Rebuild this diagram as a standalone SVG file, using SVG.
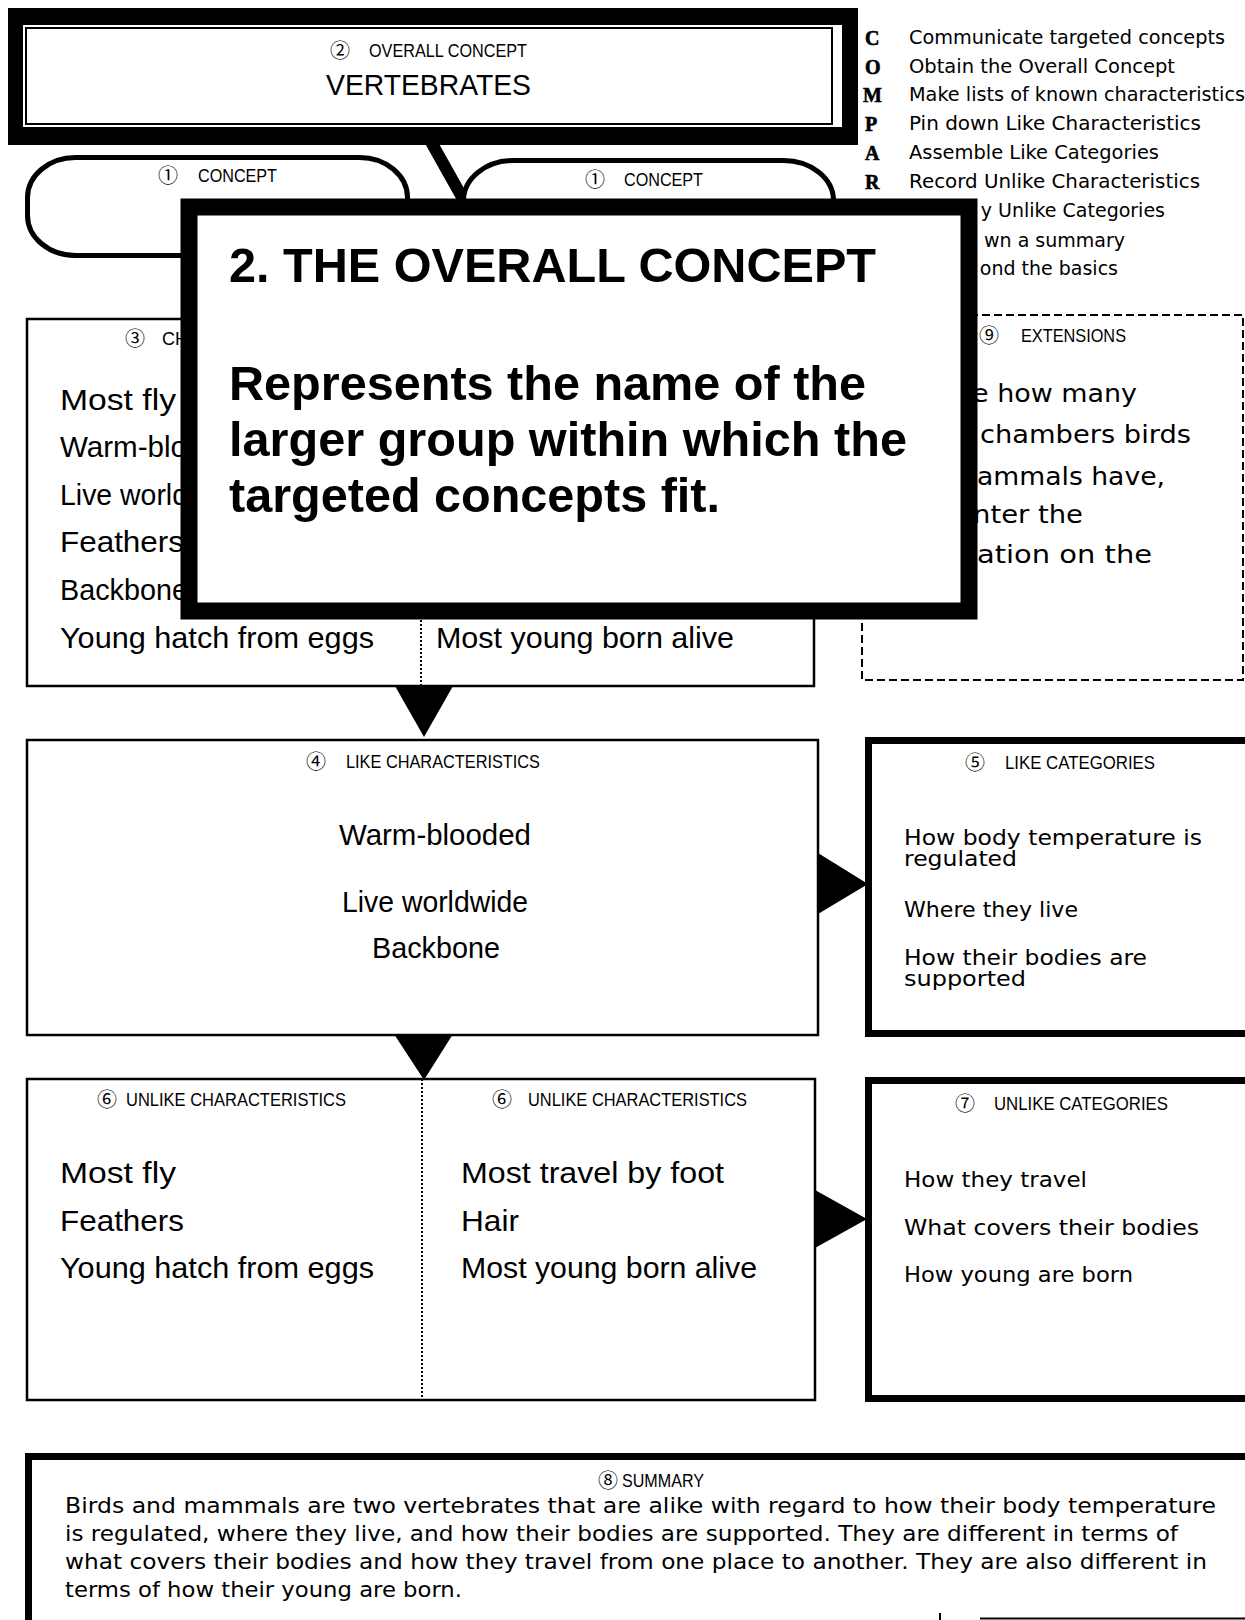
<svg xmlns="http://www.w3.org/2000/svg" width="1245" height="1620" viewBox="0 0 1245 1620">
<style>
.lbl{font-family:"Liberation Sans",Arial,sans-serif;font-size:18px;fill:#000}
.num{font-family:"Noto Sans CJK JP","DejaVu Sans",sans-serif;font-size:20px;fill:#000}
.hand{font-family:"Liberation Sans",Arial,sans-serif;font-size:30px;fill:#000}
.cat{font-family:"DejaVu Sans",sans-serif;font-size:21px;fill:#000}
.ext{font-family:"DejaVu Sans",sans-serif;font-size:24px;fill:#000}
.sum{font-family:"DejaVu Sans",sans-serif;font-size:21px;fill:#000}
.comp{font-family:"DejaVu Sans",sans-serif;font-size:19px;fill:#000}
.let{font-family:"Liberation Serif",serif;font-weight:bold;font-size:20px;fill:#000;stroke:#000;stroke-width:0.6}
.big{font-family:"Liberation Sans",Arial,sans-serif;font-weight:bold;font-size:48px;fill:#000}
.thin{fill:#fff;stroke:#000;stroke-width:2.5}
.thick{fill:#fff;stroke:#000;stroke-width:7}
.concept{fill:#fff;stroke:#000;stroke-width:5}
.dash{fill:#fff;stroke:#000;stroke-width:2;stroke-dasharray:8 4}
.dot{stroke:#000;stroke-width:2;stroke-dasharray:2 2;fill:none}
.arrow{fill:#000}
</style>
<rect width="1245" height="1620" fill="#fff"/>

<g id="connectors">
  <line x1="430" y1="140" x2="467" y2="206" stroke="#000" stroke-width="12"/>
  <polygon class="arrow" points="395,686 453,686 424,737"/>
  <polygon class="arrow" points="818,853 818,914 868,884"/>
  <polygon class="arrow" points="394,1034 453,1034 424,1080"/>
  <polygon class="arrow" points="815,1190 815,1248 867,1219"/>
</g>

<g id="concept-left">
  <rect class="concept" x="27.5" y="157.5" width="380" height="98" rx="48" ry="40"/>
  <text class="num" x="158" y="183">①</text>
  <text class="lbl" x="198" y="182" textLength="79" lengthAdjust="spacingAndGlyphs">CONCEPT</text>
</g>

<g id="concept-right">
  <rect class="concept" x="463.5" y="160.5" width="370" height="120" rx="50" ry="40"/>
  <text class="num" x="585" y="187">①</text>
  <text class="lbl" x="624" y="186" textLength="79" lengthAdjust="spacingAndGlyphs">CONCEPT</text>
</g>

<g id="overall-concept">
  <rect x="8" y="8" width="850" height="137" fill="#000"/>
  <rect x="23" y="25" width="819" height="102" fill="#fff"/>
  <rect x="26" y="28" width="806" height="96" fill="none" stroke="#000" stroke-width="2"/>
  <text class="num" x="330" y="58">②</text>
  <text class="lbl" x="369" y="57" textLength="158" lengthAdjust="spacingAndGlyphs">OVERALL CONCEPT</text>
  <text class="hand" x="326" y="95" font-size="31" textLength="205" lengthAdjust="spacingAndGlyphs">VERTEBRATES</text>
</g>

<g id="comparing-list">
  <text class="let" x="865" y="45">C</text>
  <text class="let" x="865" y="74">O</text>
  <text class="let" x="863" y="102">M</text>
  <text class="let" x="865" y="131">P</text>
  <text class="let" x="865" y="160">A</text>
  <text class="let" x="865" y="189">R</text>
  <text class="comp" x="909" y="44" textLength="316" lengthAdjust="spacingAndGlyphs">Communicate targeted concepts</text>
  <text class="comp" x="909" y="73" textLength="266" lengthAdjust="spacingAndGlyphs">Obtain the Overall Concept</text>
  <text class="comp" x="909" y="101" textLength="336" lengthAdjust="spacingAndGlyphs">Make lists of known characteristics</text>
  <text class="comp" x="909" y="130" textLength="292" lengthAdjust="spacingAndGlyphs">Pin down Like Characteristics</text>
  <text class="comp" x="909" y="159" textLength="250" lengthAdjust="spacingAndGlyphs">Assemble Like Categories</text>
  <text class="comp" x="909" y="188" textLength="291" lengthAdjust="spacingAndGlyphs">Record Unlike Characteristics</text>
  <text class="comp" x="1165" y="217" text-anchor="end">y Unlike Categories</text>
  <text class="comp" x="1125" y="247" text-anchor="end">wn a summary</text>
  <text class="comp" x="1118" y="275" text-anchor="end">ond the basics</text>
</g>

<g id="characteristics">
  <rect class="thin" x="27" y="319" width="787" height="367"/>
  <line class="dot" x1="421" y1="600" x2="421" y2="686"/>
  <text class="num" x="125" y="346">③</text>
  <text class="lbl" x="162" y="345">CH</text>
  <text class="hand" x="60" y="410" textLength="116" lengthAdjust="spacingAndGlyphs">Most fly</text>
  <text class="hand" x="60" y="457" textLength="127" lengthAdjust="spacingAndGlyphs">Warm-blo</text>
  <text class="hand" x="60" y="505" textLength="128" lengthAdjust="spacingAndGlyphs">Live world</text>
  <text class="hand" x="60" y="552" textLength="124" lengthAdjust="spacingAndGlyphs">Feathers</text>
  <text class="hand" x="60" y="600" textLength="128" lengthAdjust="spacingAndGlyphs">Backbone</text>
  <text class="hand" x="60" y="648" textLength="314" lengthAdjust="spacingAndGlyphs">Young hatch from eggs</text>
  <text class="hand" x="436" y="648" textLength="298" lengthAdjust="spacingAndGlyphs">Most young born alive</text>
</g>

<g id="extensions">
  <rect class="dash" x="862" y="315" width="381" height="365"/>
  <text class="num" x="979" y="343">⑨</text>
  <text class="lbl" x="1021" y="342" textLength="105" lengthAdjust="spacingAndGlyphs">EXTENSIONS</text>
  <text class="ext" x="972" y="402" textLength="165" lengthAdjust="spacingAndGlyphs">e how many</text>
  <text class="ext" x="980" y="443" textLength="211" lengthAdjust="spacingAndGlyphs">chambers birds</text>
  <text class="ext" x="977" y="485" textLength="188" lengthAdjust="spacingAndGlyphs">ammals have,</text>
  <text class="ext" x="973" y="523" textLength="110" lengthAdjust="spacingAndGlyphs">nter the</text>
  <text class="ext" x="977" y="563" textLength="175" lengthAdjust="spacingAndGlyphs">ation on the</text>
</g>

<g id="callout">
  <rect x="189" y="207" width="780" height="404" fill="#fff" stroke="#000" stroke-width="17"/>
  <text class="big" x="229" y="282" textLength="647" lengthAdjust="spacingAndGlyphs">2. THE OVERALL CONCEPT</text>
  <text class="big" x="229" y="400" textLength="637" lengthAdjust="spacingAndGlyphs">Represents the name of the</text>
  <text class="big" x="229" y="456" textLength="678" lengthAdjust="spacingAndGlyphs">larger group within which the</text>
  <text class="big" x="229" y="512" textLength="491" lengthAdjust="spacingAndGlyphs">targeted concepts fit.</text>
</g>

<g id="like-characteristics">
  <rect class="thin" x="27" y="740" width="791" height="295"/>
  <text class="num" x="306" y="769">④</text>
  <text class="lbl" x="346" y="768" textLength="194" lengthAdjust="spacingAndGlyphs">LIKE CHARACTERISTICS</text>
  <text class="hand" x="435" y="845" text-anchor="middle" textLength="192" lengthAdjust="spacingAndGlyphs">Warm-blooded</text>
  <text class="hand" x="435" y="912" text-anchor="middle" textLength="186" lengthAdjust="spacingAndGlyphs">Live worldwide</text>
  <text class="hand" x="436" y="958" text-anchor="middle" textLength="128" lengthAdjust="spacingAndGlyphs">Backbone</text>
</g>

<g id="like-categories">
  <rect class="thick" x="868.5" y="740.5" width="400" height="293"/>
  <text class="num" x="965" y="770">⑤</text>
  <text class="lbl" x="1005" y="769" textLength="150" lengthAdjust="spacingAndGlyphs">LIKE CATEGORIES</text>
  <text class="cat" x="904" y="845" textLength="298" lengthAdjust="spacingAndGlyphs">How body temperature is</text>
  <text class="cat" x="904" y="866" textLength="113" lengthAdjust="spacingAndGlyphs">regulated</text>
  <text class="cat" x="904" y="917" textLength="174" lengthAdjust="spacingAndGlyphs">Where they live</text>
  <text class="cat" x="904" y="965" textLength="243" lengthAdjust="spacingAndGlyphs">How their bodies are</text>
  <text class="cat" x="904" y="986" textLength="122" lengthAdjust="spacingAndGlyphs">supported</text>
</g>

<g id="unlike-characteristics">
  <rect class="thin" x="27" y="1079" width="788" height="321"/>
  <line class="dot" x1="422" y1="1079" x2="422" y2="1400"/>
  <text class="num" x="97" y="1107">⑥</text>
  <text class="lbl" x="126" y="1106" textLength="220" lengthAdjust="spacingAndGlyphs">UNLIKE CHARACTERISTICS</text>
  <text class="num" x="492" y="1107">⑥</text>
  <text class="lbl" x="528" y="1106" textLength="219" lengthAdjust="spacingAndGlyphs">UNLIKE CHARACTERISTICS</text>
  <text class="hand" x="60" y="1183" textLength="116" lengthAdjust="spacingAndGlyphs">Most fly</text>
  <text class="hand" x="60" y="1231" textLength="124" lengthAdjust="spacingAndGlyphs">Feathers</text>
  <text class="hand" x="60" y="1278" textLength="314" lengthAdjust="spacingAndGlyphs">Young hatch from eggs</text>
  <text class="hand" x="461" y="1183" textLength="263" lengthAdjust="spacingAndGlyphs">Most travel by foot</text>
  <text class="hand" x="461" y="1231" textLength="58" lengthAdjust="spacingAndGlyphs">Hair</text>
  <text class="hand" x="461" y="1278" textLength="296" lengthAdjust="spacingAndGlyphs">Most young born alive</text>
</g>

<g id="unlike-categories">
  <rect class="thick" x="868.5" y="1080.5" width="400" height="318"/>
  <text class="num" x="955" y="1111">⑦</text>
  <text class="lbl" x="994" y="1110" textLength="174" lengthAdjust="spacingAndGlyphs">UNLIKE CATEGORIES</text>
  <text class="cat" x="904" y="1187" textLength="183" lengthAdjust="spacingAndGlyphs">How they travel</text>
  <text class="cat" x="904" y="1235" textLength="295" lengthAdjust="spacingAndGlyphs">What covers their bodies</text>
  <text class="cat" x="904" y="1282" textLength="229" lengthAdjust="spacingAndGlyphs">How young are born</text>
</g>

<g id="summary">
  <rect class="thick" x="28.5" y="1456.5" width="1250" height="200"/>
  <text class="num" x="598" y="1488">⑧</text>
  <text class="lbl" x="622" y="1487" textLength="82" lengthAdjust="spacingAndGlyphs">SUMMARY</text>
  <text class="sum" x="65" y="1513" textLength="1151" lengthAdjust="spacingAndGlyphs">Birds and mammals are two vertebrates that are alike with regard to how their body temperature</text>
  <text class="sum" x="65" y="1541" textLength="1113" lengthAdjust="spacingAndGlyphs">is regulated, where they live, and how their bodies are supported. They are different in terms of</text>
  <text class="sum" x="65" y="1569" textLength="1142" lengthAdjust="spacingAndGlyphs">what covers their bodies and how they travel from one place to another. They are also different in</text>
  <text class="sum" x="65" y="1597" textLength="397" lengthAdjust="spacingAndGlyphs">terms of how their young are born.</text>
  <line x1="980" y1="1618.5" x2="1245" y2="1618.5" stroke="#000" stroke-width="2"/>
  <line x1="940" y1="1613" x2="940" y2="1620" stroke="#000" stroke-width="2"/>
</g>
</svg>
